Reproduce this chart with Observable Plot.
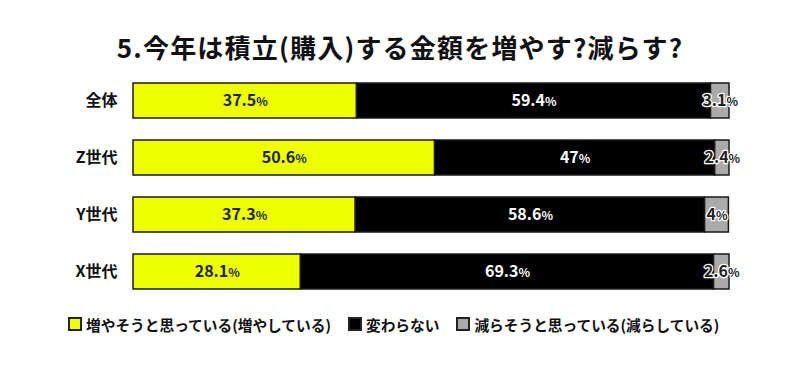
<!DOCTYPE html>
<html><head><meta charset="utf-8">
<script src="https://cdn.jsdelivr.net/npm/d3@7"></script>
<script src="https://cdn.jsdelivr.net/npm/@observablehq/plot@0.6"></script>
<style>
body{margin:0;background:#fff;font-family:"Noto Sans CJK JP","Noto Sans",sans-serif;width:800px;height:369px;overflow:hidden;}
#title{height:60px;box-sizing:border-box;padding-top:32px;text-align:center;font-size:26px;font-weight:bold;line-height:29px;color:#111;letter-spacing:1.2px;}
#chart svg{display:block;font-family:"Noto Sans CJK JP","Noto Sans",sans-serif;}
#legend{display:flex;align-items:center;padding-left:68px;margin-top:6px;height:16px;font-size:14.7px;font-weight:bold;color:#111;}
.item{display:flex;align-items:center;margin-right:17px;}
.sw{width:10px;height:10px;border:2px solid #222;margin-right:4px;}
</style></head><body>
<div id="title">5.今年は積立(購入)する金額を増やす?減らす?</div>
<div id="chart"></div>
<div id="legend"></div>
<script>
const categories = ["全体", "Z世代", "Y世代", "X世代"];
const increase = [37.5, 50.6, 37.3, 28.1];
const unchanged = [59.4, 47, 58.6, 69.3];
const decrease = [3.1, 2.4, 4, 2.6];
const seriesNames = ["増やそうと思っている(増やしている)", "変わらない", "減らそうと思っている(減らしている)"];
const seriesColors = ["#eeff00", "#000000", "#aaaaaa"];

const seriesValues = [increase, unchanged, decrease];
const data = [];
categories.forEach((c, i) => {
  seriesNames.forEach((s, j) => {
    data.push({category: c, series: s, value: seriesValues[j][i]});
  });
});

const labelFor = name => d => d.series === name ? d.value + "%" : "";
const textBase = {x: "value", y: "category", z: "series", fontSize: 16, fontWeight: "bold"};

const chart = Plot.plot({
  width: 800,
  height: 250,
  marginTop: 5,
  marginBottom: 4,
  marginLeft: 133,
  marginRight: 71,
  x: {domain: [0, 100], axis: null},
  y: {domain: categories, paddingInner: 0.39, paddingOuter: 0.3, label: null},
  color: {domain: seriesNames, range: seriesColors},
  marks: [
    Plot.barX(data, Plot.stackX({x: "value", y: "category", fill: "series", stroke: "#1a1a1a", strokeWidth: 1.5})),
    Plot.text(data, Plot.stackX({...textBase, text: labelFor(seriesNames[0]), fill: "#222"})),
    Plot.text(data, Plot.stackX({...textBase, text: labelFor(seriesNames[1]), fill: "#ffffff"})),
    Plot.text(data, Plot.stackX({...textBase, text: labelFor(seriesNames[2]), fill: "#222", stroke: "#ffffff", strokeWidth: 2.5})),
    Plot.axisY({tickSize: 0, tickPadding: 16, fontSize: 16, fontWeight: "bold", label: null, fill: "#111"})
  ]
});
// shrink the "%" sign like in the reference
chart.querySelectorAll('g[aria-label="text"] text').forEach(t => {
  const s = t.textContent;
  if (s.endsWith("%")) {
    t.textContent = s.slice(0, -1);
    const ts = document.createElementNS("http://www.w3.org/2000/svg", "tspan");
    ts.setAttribute("font-size", "12");
    ts.textContent = "%";
    t.appendChild(ts);
  }
});
document.getElementById("chart").appendChild(chart);

const legend = document.getElementById("legend");
seriesNames.forEach((s, j) => {
  const it = document.createElement("div");
  it.className = "item";
  const sw = document.createElement("div");
  sw.className = "sw";
  sw.style.background = seriesColors[j];
  const lb = document.createElement("span");
  lb.textContent = s;
  it.appendChild(sw); it.appendChild(lb);
  legend.appendChild(it);
});
</script>
</body></html>
